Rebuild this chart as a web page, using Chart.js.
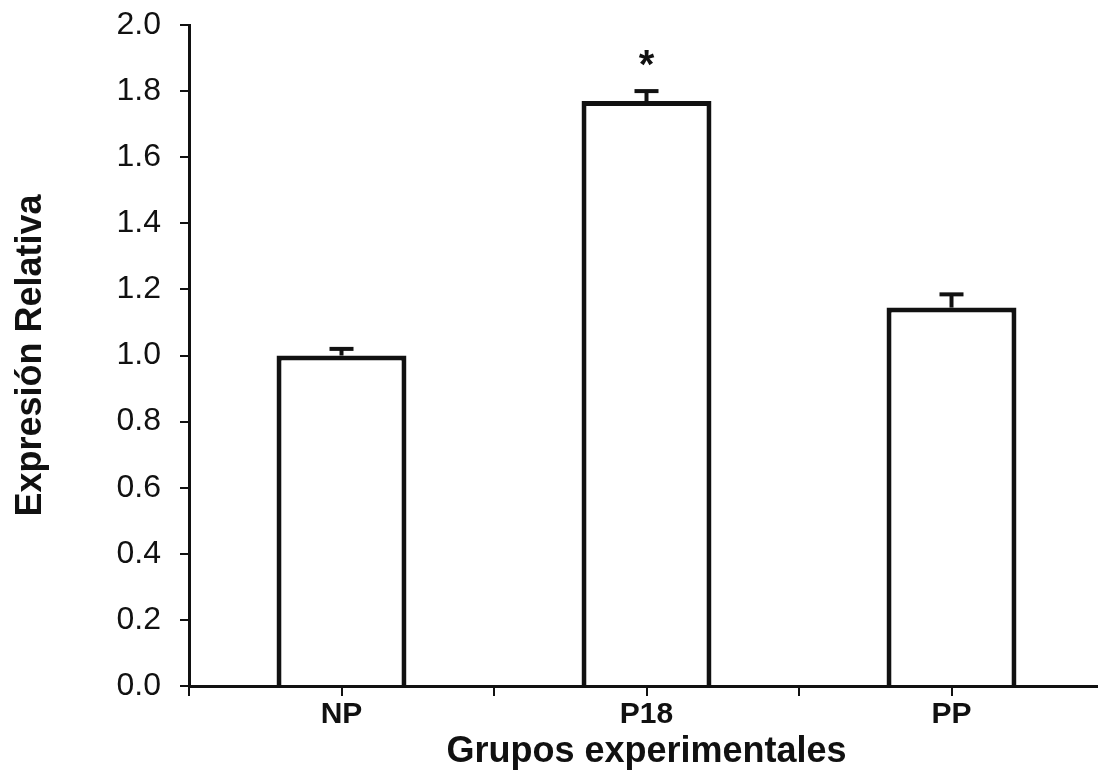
<!DOCTYPE html>
<html>
<head>
<meta charset="utf-8">
<script src="https://cdn.jsdelivr.net/npm/chart.js@4.4.1/dist/chart.umd.min.js"></script>
<style>
  html, body { margin: 0; padding: 0; background: #fff; overflow: hidden; }
  #wrap { position: absolute; left: 0; top: 0; width: 1104px; height: 775px; }
</style>
</head>
<body>
<div id="wrap"><canvas id="c" width="1104" height="775"></canvas></div>
<script>
// ---- data ----
const categories = ['NP', 'P18', 'PP'];
const meanValues = [1.00, 1.77, 1.145];
const errorTops = [1.02, 1.80, 1.185];
const significance = ['', '*', ''];
const yTickMin = 0.0;
const yTickMax = 2.0;
const yTickStep = 0.2;
const xTitle = 'Grupos experimentales';
const yTitle = 'Expresión Relativa';

const FONT = '"Liberation Sans", Arial, Helvetica, sans-serif';

const errorBarPlugin = {
  id: 'errorBars',
  afterDatasetsDraw(chart) {
    const ctx = chart.ctx;
    const meta = chart.getDatasetMeta(0);
    const ys = chart.scales.y;
    ctx.save();
    ctx.strokeStyle = '#111';
    ctx.lineCap = 'butt';
    meta.data.forEach((bar, i) => {
      const x = bar.x;
      const yTop = ys.getPixelForValue(errorTops[i]);
      const yBar = ys.getPixelForValue(meanValues[i]);
      ctx.lineWidth = 4;
      ctx.beginPath();
      ctx.moveTo(x, yBar);
      ctx.lineTo(x, yTop);
      ctx.stroke();
      ctx.beginPath();
      ctx.moveTo(x - 12, yTop);
      ctx.lineTo(x + 12, yTop);
      ctx.stroke();
      if (significance[i]) {
        ctx.fillStyle = '#111';
        ctx.font = 'bold 40px ' + FONT;
        ctx.textAlign = 'center';
        ctx.textBaseline = 'alphabetic';
        ctx.fillText(significance[i], x, yTop - 13);
      }
    });
    ctx.restore();
  },
  afterDraw(chart) {
    // minor tick marks at category centres on x axis
    const xs = chart.scales.x;
    const ctx = chart.ctx;
    ctx.save();
    ctx.strokeStyle = '#111';
    ctx.lineWidth = 2;
    categories.forEach((c, i) => {
      const px = Math.round(xs.getPixelForValue(i));
      ctx.beginPath();
      ctx.moveTo(px, xs.top);
      ctx.lineTo(px, xs.top + 10);
      ctx.stroke();
    });
    ctx.restore();
  }
};

new Chart(document.getElementById('c'), {
  type: 'bar',
  data: {
    labels: categories,
    datasets: [{
      data: meanValues,
      backgroundColor: '#ffffff',
      borderColor: '#111111',
      borderWidth: 5,
      borderSkipped: 'bottom',
      categoryPercentage: 1.0,
      barPercentage: 0.426
    }]
  },
  options: {
    responsive: false,
    animation: false,
    devicePixelRatio: 1,
    layout: { padding: { top: 25, right: 0, bottom: 0, left: 0 } },
    plugins: { legend: { display: false }, tooltip: { enabled: false } },
    scales: {
      x: {
        offset: true,
        grid: { offset: true, drawOnChartArea: false, drawTicks: true, tickLength: 10, color: '#111', lineWidth: 2 },
        border: { display: true, color: '#111', width: 3 },
        ticks: { color: '#111', font: { family: FONT, size: 30, weight: 'bold' }, padding: 1, maxRotation: 0 },
        title: { display: true, text: xTitle, color: '#111', font: { family: FONT, size: 36, weight: 'bold' }, padding: { top: 0, bottom: 1 } },
        afterFit(scale) { scale.height = 89; }
      },
      y: {
        min: yTickMin,
        max: yTickMax,
        ticks: {
          stepSize: yTickStep,
          color: '#111',
          font: { family: FONT, size: 32 },
          padding: 19,
          callback: (v) => Number(v).toFixed(1)
        },
        grid: { drawOnChartArea: false, drawTicks: true, tickLength: 9, color: '#111', lineWidth: 2 },
        border: { display: true, color: '#111', width: 3 },
        title: { display: true, text: yTitle, color: '#111', font: { family: FONT, size: 36, weight: 'bold' }, padding: { top: 9, bottom: 0 } },
        afterFit(scale) { scale.width = 189; scale.paddingTop = 0; scale.paddingBottom = 0; }
      }
    }
  },
  plugins: [errorBarPlugin]
});
</script>
</body>
</html>
